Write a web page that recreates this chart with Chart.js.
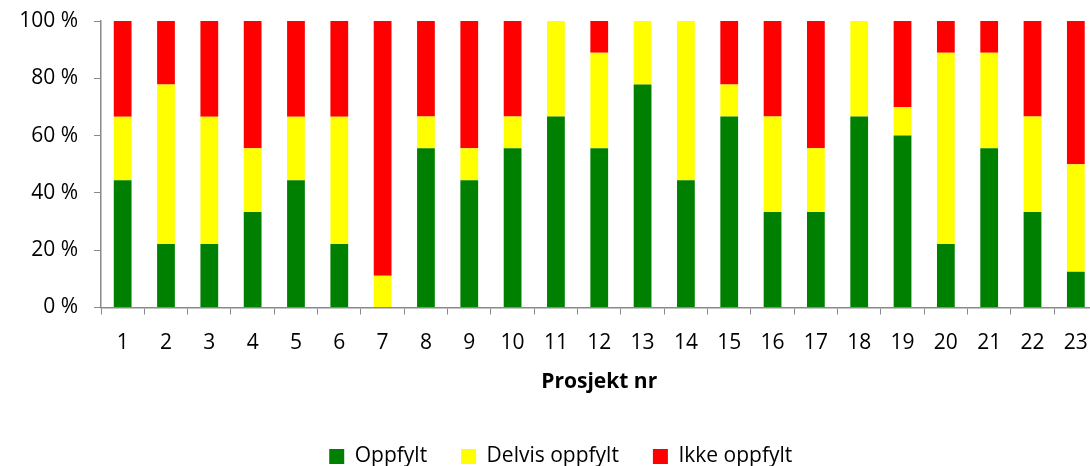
<!DOCTYPE html>
<html>
<head>
<meta charset="utf-8">
<script src="https://cdn.jsdelivr.net/npm/chart.js@4"></script>
<style>
  html, body { margin: 0; padding: 0; background: #fff; overflow: hidden; }
  #wrap { width: 1100px; height: 466px; }
</style>
</head>
<body>
<div id="wrap"><canvas id="barChart"></canvas></div>
<script>
const prosjekter = ["1", "2", "3", "4", "5", "6", "7", "8", "9", "10", "11", "12",
    "13", "14", "15", "16", "17", "18", "19", "20", "21", "22", "23"];

// andel i prosent per prosjekt
const oppfylt = [44.4, 22.2, 22.2, 33.3, 44.4, 22.2, 0, 55.6, 44.4, 55.6, 66.7, 55.6,
    77.8, 44.4, 66.7, 33.3, 33.3, 66.7, 60, 22.2, 55.6, 33.3, 12.5];
const delvisOppfylt = [22.2, 55.6, 44.4, 22.3, 22.2, 44.4, 11.1, 11.1, 11.2, 11.1, 33.3, 33.3,
    22.2, 55.6, 11.1, 33.4, 22.3, 33.3, 10, 66.7, 33.3, 33.4, 37.5];
const ikkeOppfylt = [33.4, 22.2, 33.4, 44.4, 33.4, 33.4, 88.9, 33.3, 44.4, 33.3, 0, 11.1,
    0, 0, 22.2, 33.3, 44.4, 0, 30, 11.1, 11.1, 33.3, 50];

const yTicks = [0, 20, 40, 60, 80, 100];

const fontFamily = "'Open Sans', sans-serif";
const axisColor = "#898989";

// fast høyde på forklaringen og litt forskyvning mot høyre
const legendFix = {
    id: "legendFix",
    beforeLayout(chart) {
        const legend = chart.legend;
        if (legend && !legend._fixed) {
            const fit = legend.fit.bind(legend);
            legend.fit = function () { fit(); this.height = 54; };
            legend._fixed = true;
        }
    },
    afterLayout(chart) {
        chart.legend.left += 12;
        chart.legend.right += 12;
    },
};

const barChart = document.getElementById("barChart");

new Chart(barChart, {
    type: "bar",
    data: {
        labels: prosjekter,
        datasets: [
            { label: "Oppfylt", data: oppfylt, backgroundColor: "#008000" },
            { label: "Delvis oppfylt", data: delvisOppfylt, backgroundColor: "#FFFF00" },
            { label: "Ikke oppfylt", data: ikkeOppfylt, backgroundColor: "#FF0000" },
        ],
    },
    options: {
        responsive: true,
        maintainAspectRatio: false,
        animation: false,
        datasets: {
            bar: { categoryPercentage: 1, barPercentage: 0.41 },
        },
        layout: { padding: { top: 21, right: 2.5, left: 0, bottom: 0 } },
        plugins: {
            tooltip: { enabled: false },
            legend: {
                position: "bottom",
                labels: {
                    boxWidth: 15,
                    boxHeight: 15,
                    padding: 34,
                    color: "#000",
                    font: { family: fontFamily, size: 21 },
                },
            },
        },
        scales: {
            x: {
                stacked: true,
                grid: { display: true, drawOnChartArea: false, tickLength: 7, color: axisColor, offset: true },
                border: { color: axisColor, width: 1.5 },
                ticks: {
                    color: "#000",
                    padding: 16,
                    maxRotation: 0,
                    font: { family: fontFamily, size: 21 },
                },
                title: {
                    display: true,
                    text: "Prosjekt nr",
                    color: "#000",
                    font: { family: fontFamily, size: 21, weight: "bold" },
                    padding: { top: 12, bottom: 17.5 },
                },
                afterFit: (scale) => {
                    scale.height = 104.5;
                    scale.paddingLeft = 0;
                    scale.paddingRight = 0;
                },
            },
            y: {
                stacked: true,
                min: 0,
                max: 100,
                afterBuildTicks: (scale) => { scale.ticks = yTicks.map((v) => ({ value: v })); },
                grid: { display: true, drawOnChartArea: false, tickLength: 7, color: axisColor },
                border: { color: axisColor, width: 1.5 },
                ticks: {
                    color: "#000",
                    padding: 16,
                    font: { family: fontFamily, size: 21 },
                    callback: (v) => v + " %",
                },
                afterFit: (scale) => {
                    scale.width = 101;
                    scale.paddingTop = 0;
                    scale.paddingBottom = 0;
                },
            },
        },
    },
    plugins: [legendFix],
});
</script>
</body>
</html>
